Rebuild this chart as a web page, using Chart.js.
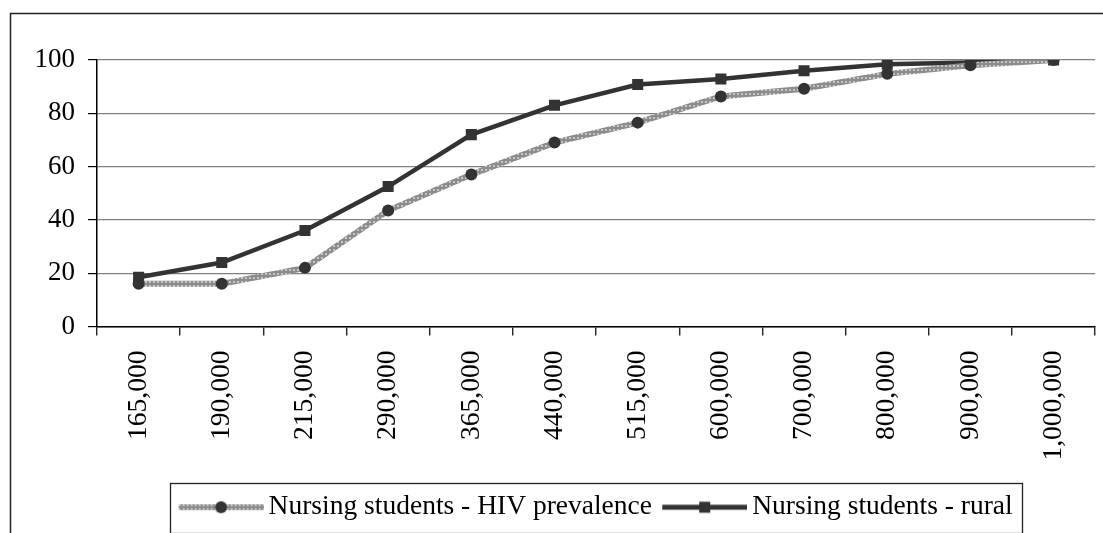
<!DOCTYPE html>
<html><head><meta charset="utf-8">
<script src="https://cdn.jsdelivr.net/npm/chart.js@4/dist/chart.umd.min.js"></script>
<style>html,body{margin:0;padding:0;background:#fff;} canvas{display:block;}</style>
</head><body>
<canvas id="c" width="1103" height="533"></canvas>
<script>
const categories = ['165,000','190,000','215,000','290,000','365,000','440,000','515,000','600,000','700,000','800,000','900,000','1,000,000'];
const hivPrevalence = [16, 16, 22, 43.5, 57, 69, 76.5, 86.3, 89.2, 94.8, 98, 100];
const rural = [18.5, 24, 36, 52.5, 72, 83, 90.8, 92.9, 96, 98.4, 99.1, 100];
const seriesNames = ['Nursing students - HIV prevalence', 'Nursing students - rural'];
const yTicks = [0, 20, 40, 60, 80, 100];

const canvas = document.getElementById('c');
const mainCtx = canvas.getContext('2d');

function makeTile() {
  const t = document.createElement('canvas');
  t.width = 4; t.height = 4;
  const g = t.getContext('2d');
  g.fillStyle = '#8c8c8c'; g.fillRect(0, 0, 4, 4);
  g.fillStyle = '#c6c6c6'; g.fillRect(1, 1, 2, 2);
  return t;
}
const grayPattern = mainCtx.createPattern(makeTile(), 'repeat');

function makeIcon(kind) {
  const W = 94, H = 16;
  const c = document.createElement('canvas');
  c.width = W; c.height = H;
  const g = c.getContext('2d');
  const x0 = 9, x1 = 94, yc = 8, xm = (x0 + x1) / 2;
  if (kind === 'gray') {
    g.strokeStyle = g.createPattern(makeTile(), 'repeat');
    g.lineWidth = 6;
    g.beginPath(); g.moveTo(x0, yc); g.lineTo(x1, yc); g.stroke();
    g.fillStyle = '#333';
    g.beginPath(); g.arc(xm, yc, 6, 0, Math.PI * 2); g.fill();
  } else {
    g.strokeStyle = '#333';
    g.lineWidth = 5;
    g.beginPath(); g.moveTo(x0, yc); g.lineTo(x1, yc); g.stroke();
    g.fillStyle = '#333';
    g.fillRect(xm - 5.5, yc - 5.5, 11, 11);
  }
  return c;
}
const icons = [makeIcon('gray'), makeIcon('dark')];

const framePlugin = {
  id: 'frame',
  afterLayout(chart) {
    // shift the legend row to the right, as in the original layout
    if (chart.legend) { chart.legend.left += 47; chart.legend.right += 47; }
  },
  beforeDraw(chart) {
    const ctx = chart.ctx;
    ctx.save();
    ctx.fillStyle = '#fff';
    ctx.fillRect(0, 0, chart.width, chart.height);
    ctx.strokeStyle = '#222';
    ctx.lineWidth = 1.5;
    ctx.beginPath();
    ctx.moveTo(10.5, chart.height);
    ctx.lineTo(10.5, 13.5);
    ctx.lineTo(chart.width, 13.5);
    ctx.stroke();
    ctx.restore();
  },
  afterDraw(chart) {
    const hb = chart.legend && chart.legend.legendHitBoxes;
    if (!hb || !hb.length) return;
    const first = hb[0], last = hb[hb.length - 1];
    const ctx = chart.ctx;
    ctx.save();
    ctx.strokeStyle = '#222';
    ctx.lineWidth = 1.3;
    const l = first.left - 8, r = last.left + last.width + 10;
    const t = first.top - 11, b = first.top + first.height + 11;
    ctx.strokeRect(Math.round(l) + 0.5, Math.round(t) + 0.5, Math.round(r - l), Math.round(b - t));
    ctx.restore();
  }
};

const serif = "'Liberation Serif', 'Times New Roman', serif";

new Chart(canvas, {
  type: 'line',
  data: {
    labels: categories,
    datasets: [
      {
        label: seriesNames[0],
        data: hivPrevalence,
        borderColor: grayPattern,
        backgroundColor: '#333',
        borderWidth: 6,
        pointStyle: 'circle',
        pointRadius: 6,
        pointBackgroundColor: '#333',
        pointBorderWidth: 0,
        tension: 0
      },
      {
        label: seriesNames[1],
        data: rural,
        borderColor: '#333',
        backgroundColor: '#333',
        borderWidth: 4.5,
        pointStyle: 'rect',
        pointRadius: 7.8,
        pointBackgroundColor: '#333',
        pointBorderWidth: 0,
        tension: 0
      }
    ]
  },
  options: {
    responsive: false,
    animation: false,
    events: [],
    layout: { padding: { left: 0, right: 6, top: 60, bottom: 2 } },
    plugins: {
      tooltip: { enabled: false },
      legend: {
        position: 'bottom',
        align: 'center',
        labels: {
          usePointStyle: true,
          pointStyleWidth: 76.5,
          padding: 10,
          color: '#000',
          font: { family: serif, size: 27.5 },
          generateLabels(chart) {
            const items = Chart.defaults.plugins.legend.labels.generateLabels(chart);
            items.forEach((it, i) => { it.pointStyle = icons[i]; });
            return items;
          }
        }
      }
    },
    scales: {
      x: {
        type: 'category',
        offset: true,
        afterFit(scale) { scale.height = 157; },
        border: { display: true, color: '#000', width: 1.5 },
        grid: {
          offset: true,
          drawOnChartArea: true,
          drawTicks: true,
          tickLength: 9,
          tickColor: '#000',
          tickWidth: 1.2,
          lineWidth: 1.5,
          color: (c) => (c.index === categories.length ? '#9a9a9a' : 'rgba(0,0,0,0)')
        },
        ticks: {
          autoSkip: false,
          minRotation: 90,
          maxRotation: 90,
          padding: 15,
          color: '#000',
          font: { family: serif, size: 27.5 }
        }
      },
      y: {
        min: 0,
        max: 100,
        afterFit(scale) { scale.width = 97; },
        afterBuildTicks(scale) { scale.ticks = yTicks.map(v => ({ value: v })); },
        border: { display: true, color: '#000', width: 1.5 },
        grid: {
          color: '#808080',
          lineWidth: 1.2,
          drawTicks: true,
          tickLength: 9,
          tickColor: '#000',
          tickWidth: 1.2
        },
        ticks: {
          padding: 13,
          color: '#000',
          font: { family: serif, size: 27 }
        }
      }
    }
  },
  plugins: [framePlugin]
});
</script>
</body></html>
